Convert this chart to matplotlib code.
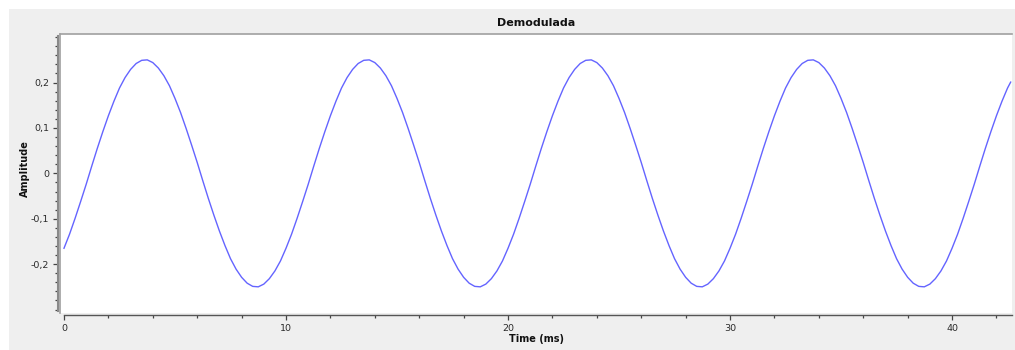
#!/usr/bin/env python3

import matplotlib
matplotlib.use('Agg')
import matplotlib.pyplot as plt
from matplotlib.patches import Rectangle
from matplotlib.ticker import FuncFormatter

# time axis (ms), one sample every 0.25 ms, plus the last visible point
time_ms = [i * 0.25 for i in range(171)] + [42.64]

# demodulated signal (one 10 ms cycle, repeats)
one_cycle = [-0.165, -0.134, -0.099, -0.062, -0.024, 0.016, 0.055, 0.092, 0.127, 0.159,
             0.188, 0.211, 0.229, 0.242, 0.249, 0.250, 0.244, 0.232, 0.215, 0.193,
             0.165, 0.134, 0.099, 0.062, 0.024, -0.016, -0.055, -0.092, -0.127, -0.159,
             -0.188, -0.211, -0.229, -0.242, -0.249, -0.250, -0.244, -0.232, -0.215, -0.193]
amplitude = (one_cycle * 5)[:171] + [0.201]

x_major = [0, 10, 20, 30, 40]
x_minor = [i * 2 for i in range(22)]
y_major = [-0.2, -0.1, 0.0, 0.1, 0.2]
y_minor = [round(-0.3 + 0.02 * i, 2) for i in range(31)]


def comma(v, pos):
    if abs(v) < 1e-9:
        return '0'
    return ('%.1f' % v).replace('.', ',')


def main():
    W, H = 1015, 350
    fig = plt.figure(figsize=(W / 100, H / 100), dpi=100)
    fig.patch.set_facecolor('white')
    fig.patches.append(Rectangle((9 / W, 0), 1, (H - 9) / H, transform=fig.transFigure,
                                 facecolor='#efefef', edgecolor='none', zorder=-10))

    left, right, top, bottom = 60, 1012, 34, 312.7
    ax = fig.add_axes([left / W, (H - bottom) / H, (right - left) / W, (bottom - top) / H])
    ax.set_facecolor('white')

    ax.plot(time_ms, amplitude, color='#6464ff', lw=1.0)

    ax.set_xlim(-0.18, 42.7)
    ax.set_ylim(-0.307, 0.307)

    ax.set_xticks(x_major)
    ax.set_xticks(x_minor, minor=True)
    ax.set_yticks(y_major)
    ax.set_yticks(y_minor, minor=True)
    ax.yaxis.set_major_formatter(FuncFormatter(comma))

    # canvas frame
    ax.spines['right'].set_visible(False)
    ax.spines['top'].set_color('#a0a0a0')
    ax.spines['top'].set_linewidth(1.2)
    ax.plot([0, 0], [0, 1], transform=ax.transAxes, color='#a0a0a0', lw=1.2, clip_on=False)

    # separate scale lines, qwt style
    ax.spines['left'].set_position(('outward', 1.7))
    ax.spines['left'].set_bounds(-0.304, 0.302)
    ax.spines['left'].set_color('#8a8a8a')
    ax.spines['left'].set_linewidth(1.5)
    ax.spines['bottom'].set_position(('outward', 1.5))
    ax.spines['bottom'].set_bounds(0, 42.7)
    ax.spines['bottom'].set_color('#555555')
    ax.spines['bottom'].set_linewidth(1.0)

    ax.tick_params(axis='both', which='major', direction='out', length=3.8, width=0.9,
                   color='#444444', labelsize=6.8, labelcolor='#2a2a2a')
    ax.tick_params(axis='both', which='minor', direction='out', length=2.2, width=0.9,
                   color='#444444')
    ax.tick_params(axis='y', which='major', pad=2.2)
    ax.tick_params(axis='x', which='major', pad=3)

    fig.text(536 / W, (H - 23) / H, 'Demodulada', ha='center', va='center',
             fontsize=8, fontweight='bold', color='#111111')
    fig.text(24.5 / W, (H - 169) / H, 'Amplitude', ha='center', va='center', rotation=90,
             fontsize=7, fontweight='bold', color='#111111')
    fig.text(536.5 / W, (H - 339) / H, 'Time (ms)', ha='center', va='center',
             fontsize=7, fontweight='bold', color='#111111')

    fig.savefig('out.png', dpi=100, facecolor=fig.get_facecolor())


if __name__ == '__main__':
    main()
